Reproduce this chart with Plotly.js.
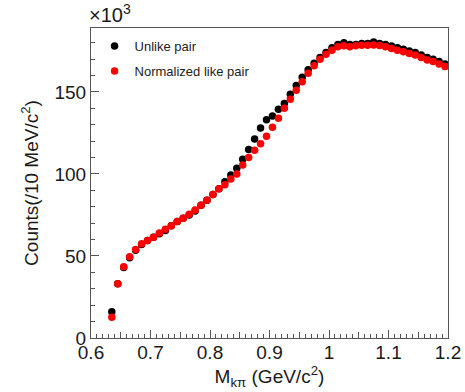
<!DOCTYPE html>
<html>
<head>
<meta charset="utf-8">
<script src="https://cdn.plot.ly/plotly-3.0.1.min.js"></script>
<style>html,body{margin:0;padding:0;background:#fff;}#chart{width:465px;height:392px;}</style>
</head>
<body>
<div id="chart"></div>
<script>
// Invariant mass bin centres (GeV/c^2)
const massBins = [0.635,0.645,0.655,0.665,0.675,0.685,0.695,0.705,0.715,0.725,
  0.735,0.745,0.755,0.765,0.775,0.785,0.795,0.805,0.815,0.825,
  0.835,0.845,0.855,0.865,0.875,0.885,0.895,0.905,0.915,0.925,
  0.935,0.945,0.955,0.965,0.975,0.985,0.995,1.005,1.015,1.025,
  1.035,1.045,1.055,1.065,1.075,1.085,1.095,1.105,1.115,1.125,
  1.135,1.145,1.155,1.165,1.175,1.185,1.195];
// Counts in units of 10^3
const unlikePair = [16,33,43,49,53.5,57,59.5,61.5,63.5,65.5,
  68.5,71,73,75,77.5,81,84,87.5,91,95.3,
  99.4,103.5,109,115,121.3,128,133,135.4,139.5,143,
  148.6,154,159,163.5,167.5,171,174,177,179,180,
  179,179,179.5,179.5,180.5,179.5,179,178,177,176,
  175,174,172.5,171,170,168.5,167];
const likePairNorm = [12.6,33,43.5,49.5,54,57.5,59.5,61.5,64,66.3,
  68.5,71,73,75.5,78,81,84,87.5,91,93.5,
  97,100,105.5,110,114.5,118.5,123,128.5,134,140,
  145.5,151,156.3,161.4,166,170,173,175.5,177.5,178.2,
  177.6,178.2,178.5,178.5,178.7,178.3,177.5,176.5,175.5,174.5,
  173.5,172.5,171,169.5,168.5,167,165.5];
const seriesNames = ['Unlike pair','Normalized like pair'];
const xMediumTicks = [0.65,0.75,0.85,0.95,1.05,1.15];

const FONT = 'Liberation Sans, Arial, Helvetica, sans-serif';
const AX = '#555';

const traces = [
  {x: massBins, y: unlikePair, name: seriesNames[0], type:'scatter', mode:'markers',
   legendgroup:'a', marker:{color:'#000000', size:7.5}},
  {x: massBins, y: likePairNorm, name: seriesNames[1], type:'scatter', mode:'markers',
   legendgroup:'b', marker:{color:'#ff0000', size:7.5}},
  {x: [], y: [], xaxis:'x2', showlegend:false, hoverinfo:'skip'}
];

const layout = {
  width:465, height:392,
  margin:{l:91, r:17, t:28, b:54},
  paper_bgcolor:'#fff', plot_bgcolor:'#fff',
  font:{family:FONT, color:'#1a1a1a', size:19},
  showlegend:true,
  legend:{x:0.01, y:0.99, xanchor:'left', yanchor:'top', bgcolor:'rgba(0,0,0,0)',
          font:{size:13, family:FONT, color:'#222'}, traceorder:'grouped', tracegroupgap:5,
          itemwidth:30},
  xaxis:{range:[0.6,1.2], dtick:0.1, tick0:0.6, ticks:'inside', ticklen:8, tickcolor:AX,
         showline:true, linecolor:AX, linewidth:1, mirror:true, showgrid:false, zeroline:false,
         tickfont:{size:19}, ticklabelstandoff:-3,
         minor:{dtick:0.01, ticks:'inside', ticklen:4, tickcolor:AX, showgrid:false},
         title:{text:'M<sub>kπ</sub> (GeV/c<sup>2</sup>)', font:{size:19}, standoff:2}},
  xaxis2:{range:[0.6,1.2], overlaying:'x', anchor:'y', side:'bottom', tickmode:'array',
          tickvals:xMediumTicks, ticks:'inside', ticklen:6, tickcolor:AX, showticklabels:false,
          showline:false, showgrid:false, zeroline:false},
  yaxis:{range:[0,189], dtick:50, tick0:0, ticks:'inside', ticklen:8, tickcolor:AX,
         showline:true, linecolor:AX, linewidth:1, mirror:true, showgrid:false, zeroline:false,
         tickfont:{size:19}, minor:{dtick:10, ticks:'inside', ticklen:4, tickcolor:AX, showgrid:false},
         title:{text:'Counts(/10 MeV/c<sup>2</sup>)', font:{size:19}, standoff:10}},
  annotations:[{xref:'paper', yref:'paper', x:-0.01, y:1, xanchor:'left', yanchor:'bottom',
                text:'×10<sup>3</sup>', showarrow:false, font:{size:20, family:FONT, color:'#1a1a1a'}}]
};

Plotly.newPlot('chart', traces, layout, {displayModeBar:false, staticPlot:true});
</script>
</body>
</html>
